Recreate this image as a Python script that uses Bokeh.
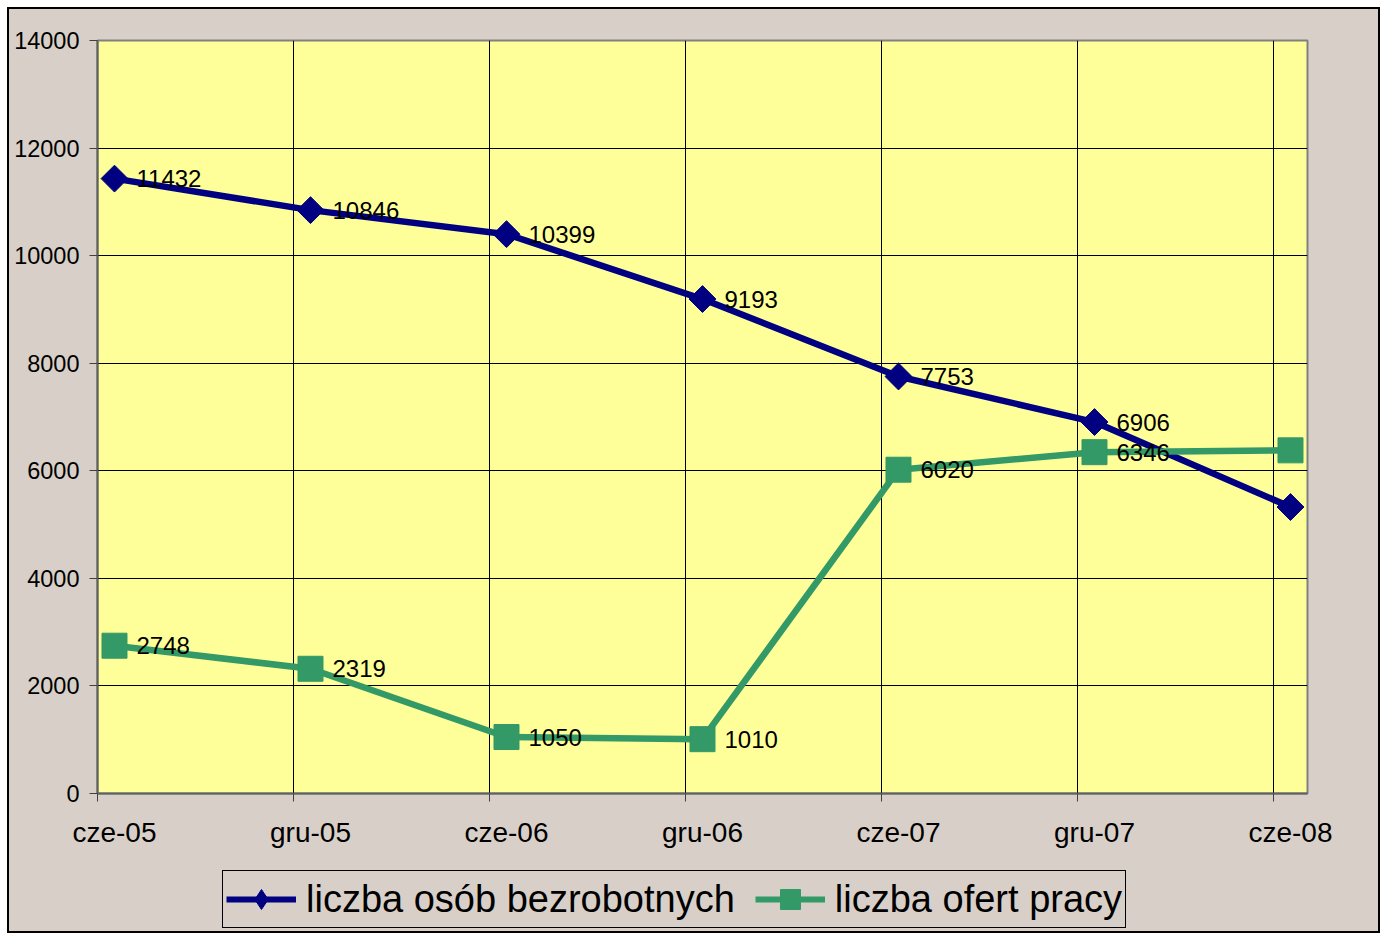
import math
from bokeh.plotting import figure
from bokeh.layouts import column
from bokeh.models import (Range1d, FixedTicker, ColumnDataSource, LabelSet,
                          Legend, LegendItem)
from bokeh.core.properties import value
from bokeh.embed import file_html
from bokeh.resources import INLINE

categories = ["cze-05", "gru-05", "cze-06", "gru-06", "cze-07", "gru-07", "cze-08"]
bezrobotni = [11432, 10846, 10399, 9193, 7753, 6906, 5326]
oferty = [2748, 2319, 1050, 1010, 6020, 6346, 6380]
y_ticks = [0, 2000, 4000, 6000, 8000, 10000, 12000, 14000]
name_a = "liczba osób bezrobotnych"
name_b = "liczba ofert pracy"

FONT = "Liberation Sans"
BG = "#D8D0C8"
NAVY = "#000080"
GREEN = "#339966"
off = 17 / 196

xs = list(range(len(categories)))
grid_pos = [i - off for i in range(len(categories))]

p = figure(width=1369, height=853, frame_width=1210, frame_height=753,
           output_backend="svg", toolbar_location=None,
           x_range=Range1d(-off, 6.1735 - off), y_range=Range1d(0, 14000),
           min_border_left=88, min_border_top=31, min_border_right=71, min_border_bottom=69)
p.background_fill_color = "#FFFF99"
p.border_fill_color = BG
p.outline_line_color = "#808080"
p.outline_line_width = 2

# y axis
p.yaxis.ticker = FixedTicker(ticks=y_ticks)
p.yaxis.major_label_text_font = FONT
p.yaxis.major_label_text_font_size = "23.5px"
p.yaxis.major_label_text_color = "black"
p.yaxis.major_tick_out = 8
p.yaxis.major_tick_in = 0
p.yaxis.minor_tick_out = 0
p.yaxis.minor_tick_in = 0
p.yaxis.major_label_standoff = 10
p.yaxis.axis_line_color = "#606060"
p.yaxis.axis_line_width = 2
p.yaxis.major_tick_line_color = "#404040"

# x axis
p.xaxis.ticker = FixedTicker(ticks=xs, minor_ticks=grid_pos)
p.xaxis.major_label_overrides = {i: c for i, c in zip(xs, categories)}
p.xaxis.major_label_text_font = FONT
p.xaxis.major_label_text_font_size = "28px"
p.xaxis.major_label_text_color = "black"
p.xaxis.major_tick_out = 0
p.xaxis.major_tick_in = 0
p.xaxis.minor_tick_out = 8
p.xaxis.minor_tick_in = 0
p.xaxis.minor_tick_line_color = "#404040"
p.xaxis.major_label_standoff = 15
p.xaxis.axis_line_color = "#606060"
p.xaxis.axis_line_width = 2

p.xgrid.ticker = FixedTicker(ticks=grid_pos)
p.ygrid.ticker = FixedTicker(ticks=y_ticks)
p.xgrid.grid_line_color = "black"
p.ygrid.grid_line_color = "black"
p.xgrid.grid_line_width = 1
p.ygrid.grid_line_width = 1

src_a = ColumnDataSource(dict(x=xs, y=bezrobotni, t=[str(v) for v in bezrobotni]))
src_b = ColumnDataSource(dict(x=xs, y=oferty, t=[str(v) for v in oferty]))

p.line("x", "y", source=src_a, line_color=NAVY, line_width=6.5)
p.scatter("x", "y", source=src_a, marker="square", size=19, angle=math.pi / 4,
          fill_color=NAVY, line_color=NAVY)
p.line("x", "y", source=src_b, line_color=GREEN, line_width=6.5)
p.scatter("x", "y", source=src_b, marker="square", size=25,
          fill_color=GREEN, line_color=GREEN)

for src in (src_a, src_b):
    p.add_layout(LabelSet(x="x", y="y", text="t", source=src, x_offset=22, y_offset=0,
                          text_baseline="middle", text_align="left",
                          text_font=value(FONT), text_font_size=value("24px"),
                          text_color="black"))

# legend strip below the chart (swatch renderers sit outside its visible range)
q = figure(width=1369, height=69, output_backend="svg", toolbar_location=None,
           x_range=Range1d(0, 1), y_range=Range1d(0, 1),
           min_border_left=0, min_border_right=0, min_border_top=0, min_border_bottom=0)
q.axis.visible = False
q.grid.visible = False
q.outline_line_color = None
q.background_fill_color = BG
q.border_fill_color = BG
sw = ColumnDataSource(dict(x=[-5, -4], y=[-5, -4]))
qa_l = q.line("x", "y", source=sw, line_color=NAVY, line_width=6)
qa_m = q.scatter("x", "y", source=sw, marker="diamond", fill_color=NAVY, line_color=NAVY)
qb_l = q.line("x", "y", source=sw, line_color=GREEN, line_width=6)
qb_m = q.scatter("x", "y", source=sw, marker="square", fill_color=GREEN, line_color=GREEN)

legend = Legend(items=[LegendItem(label=name_a, renderers=[qa_l, qa_m]),
                       LegendItem(label=name_b, renderers=[qb_l, qb_m])],
                orientation="horizontal", location=(125, 3))
legend.label_text_font = FONT
legend.label_text_font_size = "38px"
legend.label_text_color = "black"
legend.glyph_width = 70
legend.glyph_height = 50
legend.label_standoff = 10
legend.spacing = 20
legend.padding = 3
legend.margin = 0
legend.border_line_color = "black"
legend.border_line_alpha = 1
legend.border_line_width = 1.5
legend.background_fill_alpha = 0
q.add_layout(legend, "center")

layout = column(p, q, spacing=0,
                styles={"border": "2px solid black", "margin-left": "7px", "margin-top": "7px",
                        "background-color": BG})

open("out.html", "w").write(file_html(layout, INLINE))
